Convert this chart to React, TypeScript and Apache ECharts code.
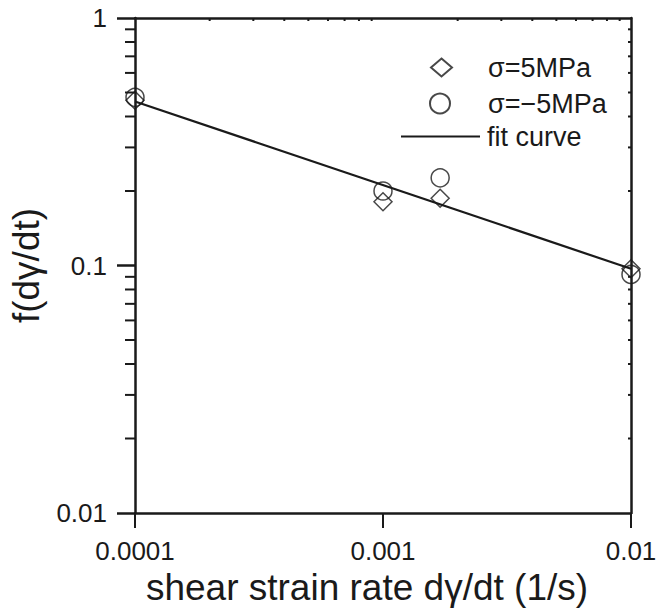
import React, { useEffect, useRef } from "react";
import * as echarts from "echarts";

// ---- data ----
const strainRates = [0.0001, 0.001, 0.0017, 0.01];
const fPos5MPa = [0.465, 0.181, 0.187, 0.097];
const fNeg5MPa = [0.478, 0.2, 0.226, 0.092];
const fitRates = [0.0001, 0.01];
const fitValues = [0.46, 0.097];

const xTickLabels = ["0.0001", "0.001", "0.01"];
const yTickLabels = ["0.01", "0.1", "1"];
const minorMultipliers = [2, 3, 4, 5, 6, 7, 8, 9];
const xDecades = [0.0001, 0.001];
const yDecades = [0.01, 0.1];

const seriesNames = ["σ=5MPa", "σ=−5MPa", "fit curve"];

const FONT = "Liberation Sans, Arial, Helvetica, sans-serif";
const INK = "#1a1a1a";

const minorX: number[] = [];
xDecades.forEach((d) => minorMultipliers.forEach((m) => minorX.push(+(d * m).toPrecision(3))));
const minorY: number[] = [];
yDecades.forEach((d) => minorMultipliers.forEach((m) => minorY.push(+(d * m).toPrecision(3))));

function tickSeries(data: number[][], dx: number, dy: number) {
  return {
    type: "custom",
    coordinateSystem: "cartesian2d",
    silent: true,
    clip: false,
    z: 5,
    data,
    renderItem: (_p: any, api: any) => {
      const pt = api.coord([api.value(0), api.value(1)]);
      return {
        type: "line",
        shape: { x1: pt[0], y1: pt[1], x2: pt[0] + dx, y2: pt[1] + dy },
        style: { stroke: INK, lineWidth: 2 },
      };
    },
  };
}

export default function App() {
  const ref = useRef<HTMLDivElement>(null);
  useEffect(() => {
    document.body.style.margin = "0";
    if (!ref.current) return;
    const chart = echarts.init(ref.current, null, { renderer: "svg" });
    const axisCommon = {
      type: "log",
      logBase: 10,
      splitLine: { show: false },
      axisLine: { show: true, onZero: false, lineStyle: { color: INK, width: 2.5 } },
    };
    chart.setOption({
      animation: false,
      backgroundColor: "#fff",
      grid: { left: 135, right: 39, top: 18, bottom: 95, containLabel: false },
      xAxis: [
        {
          ...axisCommon,
          position: "bottom",
          min: 0.0001,
          max: 0.01,
          axisTick: { show: true, inside: false, length: 15, lineStyle: { color: INK, width: 2 } },
          axisLabel: {
            margin: 25,
            fontSize: 26,
            color: INK,
            fontFamily: FONT,
            formatter: (_v: number, i: number) => xTickLabels[i] ?? "",
          },
          name: "shear strain rate dγ/dt (1/s)",
          nameLocation: "middle",
          nameGap: 56,
          nameTextStyle: { fontSize: 37, color: INK, fontFamily: FONT, padding: [0, 32, 0, 0] },
        },
        {
          ...axisCommon,
          position: "top",
          min: 0.0001,
          max: 0.01,
          axisTick: { show: false },
          axisLabel: { show: false },
        },
      ],
      yAxis: [
        {
          ...axisCommon,
          position: "left",
          min: 0.01,
          max: 1,
          axisTick: { show: true, inside: false, length: 18, lineStyle: { color: INK, width: 2.5 } },
          axisLabel: {
            margin: 28,
            fontSize: 26,
            color: INK,
            fontFamily: FONT,
            formatter: (_v: number, i: number) => yTickLabels[i] ?? "",
          },
          name: "f(dγ/dt)",
          nameLocation: "middle",
          nameGap: 86,
          nameTextStyle: { fontSize: 37, color: INK, fontFamily: FONT },
        },
        {
          ...axisCommon,
          position: "right",
          min: 0.01,
          max: 1,
          axisTick: { show: false },
          axisLabel: { show: false },
        },
      ],
      legend: [
        {
          data: [seriesNames[0]],
          left: 430,
          top: 54,
          padding: 0,
          itemWidth: 21,
          itemHeight: 18,
          selectedMode: false,
          textStyle: { fontSize: 27, color: INK, fontFamily: FONT, padding: [0, 0, 0, 31] },
        },
        {
          data: [seriesNames[1]],
          left: 429,
          top: 90,
          padding: 0,
          itemWidth: 20,
          itemHeight: 20,
          selectedMode: false,
          textStyle: { fontSize: 27, color: INK, fontFamily: FONT, padding: [0, 0, 0, 33] },
        },
        {
          data: [{ name: seriesNames[2], icon: "rect" }],
          left: 401,
          top: 123,
          padding: 0,
          itemWidth: 79,
          itemHeight: 2,
          selectedMode: false,
          itemStyle: { color: INK, borderWidth: 0 },
          textStyle: { fontSize: 27, color: INK, fontFamily: FONT, padding: [0, 0, 0, 2] },
        },
      ],
      series: [
        {
          name: seriesNames[2],
          type: "line",
          data: fitRates.map((x, i) => [x, fitValues[i]]),
          symbol: "none",
          itemStyle: { color: INK },
          lineStyle: { color: INK, width: 2.2 },
          z: 2,
        },
        {
          name: seriesNames[0],
          type: "scatter",
          data: strainRates.map((x, i) => [x, fPos5MPa[i]]),
          symbol: "diamond",
          symbolSize: [18, 18],
          itemStyle: { color: "rgba(255,255,255,0)", borderColor: INK, borderWidth: 1.5 },
          z: 3,
        },
        {
          name: seriesNames[1],
          type: "scatter",
          data: strainRates.map((x, i) => [x, fNeg5MPa[i]]),
          symbol: "circle",
          symbolSize: 18,
          itemStyle: { color: "rgba(255,255,255,0)", borderColor: INK, borderWidth: 1.5 },
          z: 3,
        },
        tickSeries(minorY.map((v) => [0.0001, v]), -10, 0),
        tickSeries(minorY.map((v) => [0.01, v]), -3, 0),
        tickSeries(minorX.map((v) => [v, 1]), 0, 3),
      ],
    });
    return () => chart.dispose();
  }, []);
  return <div ref={ref} style={{ width: 670, height: 611 }} />;
}
